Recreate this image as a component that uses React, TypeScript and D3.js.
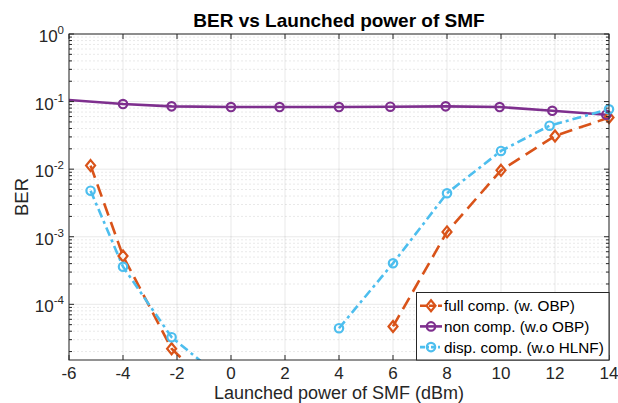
import React from "react";
import * as d3 from "d3";

// launched power (dBm) and BER per curve, NaN breaks the line
const fullX = [-5.2, -4, -2.2, 0, 2, 6, 8, 10, 12, 14];
const fullBER = [0.0113, 5.2e-4, 2.2e-5, 3.2e-6, NaN, 4.7e-5, 1.18e-3, 9.6e-3, 0.031, 0.058];

const nonX = [-6.6, -4, -2.2, 0, 1.8, 4, 5.9, 7.95, 9.95, 11.9, 13.9];
const nonBER = [0.11, 0.092, 0.085, 0.083, 0.083, 0.083, 0.084, 0.085, 0.083, 0.073, 0.064];

const dispX = [-5.2, -4, -2.2, 0, 2, 4, 6, 8, 10, 11.8, 14];
const dispBER = [4.8e-3, 3.6e-4, 3.26e-5, 6.2e-6, NaN, 4.43e-5, 4.05e-4, 4.4e-3, 0.0186, 0.044, 0.077];

const xTicks = [-6, -4, -2, 0, 2, 4, 6, 8, 10, 12, 14];
const yExps = [0, -1, -2, -3, -4];
const legendLabels = ["full comp. (w. OBP)", "non comp. (w.o OBP)", "disp. comp. (w.o HLNF)"];

const W = 618, H = 403;
const margin = { top: 34, right: 9, bottom: 43, left: 69 };
const font = "'Liberation Sans', Arial, Helvetica, sans-serif";
const axisColor = "#262626";

const x = d3.scaleLinear().domain([-6, 14]).range([margin.left, W - margin.right]);
const y = d3.scaleLog().domain([1.5e-5, 1]).range([H - margin.bottom, margin.top]);

type Pt = { x: number; v: number };
const zip = (xs: number[], vs: number[]): Pt[] => xs.map((d, i) => ({ x: d, v: vs[i] }));

const series = [
  { name: legendLabels[0], pts: zip(fullX, fullBER), color: "#D95319", dash: "13,7", legendDash: "6,3", marker: "diamond", width: 2.6 },
  { name: legendLabels[1], pts: zip(nonX, nonBER), color: "#7E2F8E", dash: "none", legendDash: "none", marker: "circle", width: 2.6 },
  { name: legendLabels[2], pts: zip(dispX, dispBER), color: "#4DBEEE", dash: "9,4,3,4", legendDash: "5,2,2,2", marker: "circle", width: 2.6 },
];

const line = d3
  .line<Pt>()
  .defined((d) => !isNaN(d.v))
  .x((d) => x(d.x))
  .y((d) => y(d.v));

const Marker = ({ kind, cx, cy, color }: { kind: string; cx: number; cy: number; color: string }) =>
  kind === "diamond" ? (
    <path
      d={`M${cx},${cy - 5.5}L${cx + 4.5},${cy}L${cx},${cy + 5.5}L${cx - 4.5},${cy}Z`}
      fill="none"
      stroke={color}
      strokeWidth={2.2}
    />
  ) : (
    <circle cx={cx} cy={cy} r={4.2} fill="none" stroke={color} strokeWidth={2.2} />
  );

export default function App() {
  const [x0, x1] = x.range();
  const [yb, yt] = y.range();

  // minor log ticks
  const minors: number[] = [];
  for (let e = -5; e < 0; e++) {
    for (let m = 2; m <= 9; m++) {
      const v = m * Math.pow(10, e);
      if (v >= 1.5e-5 && v < 1) minors.push(v);
    }
  }

  return (
    <div style={{ position: "absolute", left: 0, top: 0 }}>
      <svg width={W} height={H} style={{ fontFamily: font, display: "block" }}>
        <rect width={W} height={H} fill="#fff" />
        <defs>
          <clipPath id="plot">
            <rect x={x0} y={yt} width={x1 - x0} height={yb - yt} />
          </clipPath>
        </defs>

        {/* grid */}
        {minors.map((v) => (
          <line key={"mg" + v} x1={x0} x2={x1} y1={y(v)} y2={y(v)} stroke={axisColor} strokeOpacity={0.1} strokeDasharray="2,2" />
        ))}
        {xTicks.map((t) => (
          <line key={"gx" + t} x1={x(t)} x2={x(t)} y1={yt} y2={yb} stroke={axisColor} strokeOpacity={0.1} />
        ))}
        {yExps.map((e) => (
          <line key={"gy" + e} x1={x0} x2={x1} y1={y(Math.pow(10, e))} y2={y(Math.pow(10, e))} stroke={axisColor} strokeOpacity={0.1} />
        ))}

        {/* series */}
        <g clipPath="url(#plot)">
          {series.map((s) => (
            <path
              key={s.name}
              d={line(s.pts) || ""}
              fill="none"
              stroke={s.color}
              strokeWidth={s.width}
              strokeDasharray={s.dash}
            />
          ))}
        </g>
        {series.map((s) =>
          s.pts
            .filter((p) => !isNaN(p.v) && p.x >= -6 && p.x <= 14 && p.v >= 1.5e-5)
            .map((p, i) => <Marker key={s.name + i} kind={s.marker} cx={x(p.x)} cy={y(p.v)} color={s.color} />)
        )}

        {/* axes box and ticks */}
        <rect x={x0} y={yt} width={x1 - x0} height={yb - yt} fill="none" stroke={axisColor} strokeWidth={1} />
        {xTicks.map((t) => (
          <g key={"tx" + t}>
            <line x1={x(t)} x2={x(t)} y1={yb} y2={yb - 5} stroke={axisColor} />
            <line x1={x(t)} x2={x(t)} y1={yt} y2={yt + 5} stroke={axisColor} />
            <text x={x(t)} y={378.5} textAnchor="middle" fontSize={17} fill={axisColor}>
              {t}
            </text>
          </g>
        ))}
        {minors.map((v) => (
          <g key={"mt" + v}>
            <line x1={x0} x2={x0 + 3} y1={y(v)} y2={y(v)} stroke={axisColor} />
            <line x1={x1} x2={x1 - 3} y1={y(v)} y2={y(v)} stroke={axisColor} />
          </g>
        ))}
        {yExps.map((e) => {
          const yy = y(Math.pow(10, e));
          return (
            <g key={"ty" + e}>
              <line x1={x0} x2={x0 + 5} y1={yy} y2={yy} stroke={axisColor} />
              <line x1={x1} x2={x1 - 5} y1={yy} y2={yy} stroke={axisColor} />
              <text x={64} y={yy + 8} textAnchor="end" fontSize={17} fill={axisColor}>
                10
                <tspan dy={-8} fontSize={11.5}>
                  {e}
                </tspan>
              </text>
            </g>
          );
        })}

        {/* labels */}
        <text x={(x0 + x1) / 2} y={26.5} textAnchor="middle" fontSize={19} fontWeight="bold" fill="#000">
          BER vs Launched power of SMF
        </text>
        <text x={(x0 + x1) / 2} y={399} textAnchor="middle" fontSize={18} fill={axisColor}>
          Launched power of SMF (dBm)
        </text>
        <text transform={`translate(28,${(yt + yb) / 2}) rotate(-90)`} textAnchor="middle" fontSize={18.5} fill={axisColor}>
          BER
        </text>

        {/* legend */}
        <g>
          <rect x={416.5} y={292.5} width={x1 - 416.5} height={yb - 292.5} fill="#fff" stroke={axisColor} strokeWidth={1} />
          {series.map((s, i) => {
            const ly = 305.7 + i * 20.7;
            return (
              <g key={"lg" + s.name}>
                <line x1={420} x2={442} y1={ly} y2={ly} stroke={s.color} strokeWidth={s.width} strokeDasharray={s.legendDash} />
                <Marker kind={s.marker} cx={431} cy={ly} color={s.color} />
                <text x={444} y={ly + 5.5} fontSize={15.3} fill="#000">
                  {s.name}
                </text>
              </g>
            );
          })}
        </g>
      </svg>
    </div>
  );
}
